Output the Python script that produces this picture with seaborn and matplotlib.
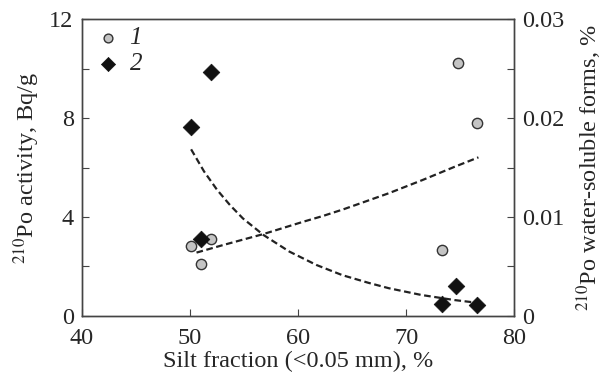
import matplotlib
matplotlib.use("Agg")
import matplotlib.pyplot as plt
import matplotlib.ticker as mticker
import pandas as pd
import seaborn as sns

# Series 1: 210Po activity, Bq/g (left axis)
silt_1 = [50.05, 51.0, 51.9, 73.3, 74.8, 76.6]
activity = [2.83, 2.10, 3.10, 2.67, 10.23, 7.81]

# Series 2: 210Po water-soluble forms, % (right axis)
silt_2 = [50.05, 51.0, 51.9, 73.3, 74.6, 76.6]
soluble = [0.0191, 0.0078, 0.02465, 0.00118, 0.00303, 0.00111]

# dashed trend curves
trend_1_x = [50.6, 53.1, 56.8, 60.5, 62.3, 64.2, 65.3, 68.4, 71.5, 74.5, 76.7]
trend_1_y = [2.56, 2.87, 3.31, 3.81, 4.04, 4.31, 4.48, 4.96, 5.49, 6.03, 6.41]
trend_2_x = [50.1, 51.3, 52.5, 53.7, 54.9, 56.8, 59.2, 61.7, 64.1, 66.5,
             68.4, 71.4, 74.5, 76.5]
trend_2_y = [0.01684, 0.0146, 0.01275, 0.0112, 0.00985, 0.00818, 0.0065,
             0.00515, 0.00412, 0.00335, 0.0028, 0.00212, 0.0016, 0.00134]

df1 = pd.DataFrame({"silt": silt_1, "value": activity})
df2 = pd.DataFrame({"silt": silt_2, "value": soluble})
t1 = pd.DataFrame({"silt": trend_1_x, "value": trend_1_y})
t2 = pd.DataFrame({"silt": trend_2_x, "value": trend_2_y})

sns.set_style("ticks")
plt.rcParams["font.family"] = ["Liberation Serif", "DejaVu Serif"]
plt.rcParams["mathtext.fontset"] = "stix"
plt.rcParams["axes.edgecolor"] = "#444444"
plt.rcParams["axes.linewidth"] = 1.0

fig = plt.figure(figsize=(6.12, 3.82), dpi=100)
ax = fig.add_axes([0.134, 0.173, 0.706, 0.777])
ax2 = ax.twinx()

sns.lineplot(x="silt", y="value", data=t1, ax=ax, color="#222222",
             linewidth=1.6, linestyle=(0, (3, 1.6)), sort=True)
sns.scatterplot(x="silt", y="value", data=df1, ax=ax, marker="o", s=55,
                color="#c4c4c4", edgecolor="#333333", linewidth=1.0, label="1",
                zorder=3)

sns.lineplot(x="silt", y="value", data=t2, ax=ax2, color="#222222",
             linewidth=1.6, linestyle=(0, (3, 1.6)), sort=True)
sns.scatterplot(x="silt", y="value", data=df2, ax=ax2, marker="D", s=72,
                color="#111111", edgecolor="#111111", linewidth=0.5, label="2",
                zorder=3)

ax.set_xlim(40, 80)
ax.set_ylim(0, 12)
ax2.set_ylim(0, 0.03)
ax.xaxis.set_major_locator(mticker.MultipleLocator(10))
ax.yaxis.set_major_locator(mticker.MultipleLocator(4))
ax.yaxis.set_minor_locator(mticker.MultipleLocator(2))
ax2.yaxis.set_major_locator(mticker.FixedLocator([0, 0.01, 0.02, 0.03]))
ax2.yaxis.set_major_formatter(mticker.FixedFormatter(["0", "0.01", "0.02", "0.03"]))
ax2.yaxis.set_minor_locator(mticker.MultipleLocator(0.005))

for a in (ax, ax2):
    a.tick_params(which="both", direction="in", length=5, width=0.8,
                  color="#444444", labelsize=17.5, pad=6)
ax.tick_params(axis="y", which="both", right=False)
ax2.tick_params(axis="y", which="both", left=False)
ax.tick_params(axis="x", top=False, pad=9)

ax.set_xlabel("Silt fraction (<0.05 mm), %", fontsize=17.5, labelpad=1)
ax.set_ylabel(r"$^{210}$Po activity, Bq/g", fontsize=17.5, labelpad=5)
ax2.set_ylabel(r"$^{210}$Po water-soluble forms, %", fontsize=17.5, labelpad=7)

for s in ("top", "right", "left", "bottom"):
    ax.spines[s].set_visible(True)
    ax2.spines[s].set_visible(True)

h1, l1 = ax.get_legend_handles_labels()
h2, l2 = ax2.get_legend_handles_labels()
if ax.get_legend() is not None:
    ax.get_legend().remove()
ax2.legend(h1 + h2, l1 + l2, loc="upper left", frameon=False,
           prop={"style": "italic", "size": 18, "family": "Liberation Serif"},
           handletextpad=0.1, labelspacing=0.15, borderaxespad=0.1,
           handlelength=1.5, markerscale=0.85, borderpad=0.2)

fig.savefig("out.png", dpi=100)
